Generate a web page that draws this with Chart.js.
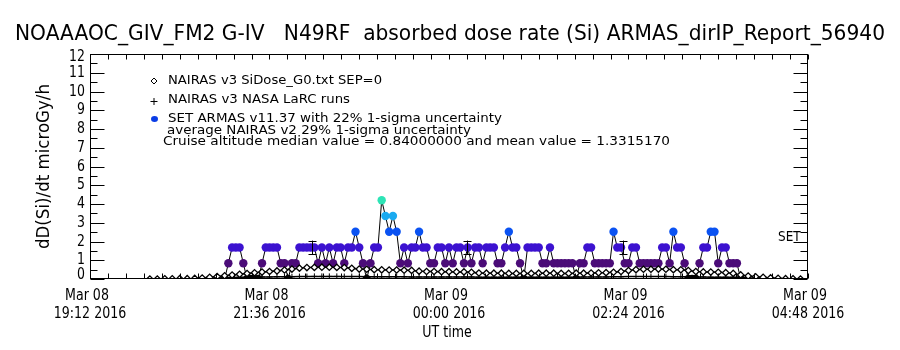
<!DOCTYPE html>
<html>
<head>
<meta charset="utf-8">
<script src="https://cdn.jsdelivr.net/npm/chart.js@4.4.1/dist/chart.umd.min.js"></script>
<style>
  html, body { margin: 0; padding: 0; background: #fff; }
  #wrap { width: 900px; height: 350px; }
</style>
</head>
<body>
<div id="wrap"><canvas id="doseChart" width="900" height="350"></canvas></div>
<script>
// axis range, UT hours (24+ = next day)
const X_MIN = 19.2;
const X_MAX = 28.8;
const Y_MAX = 12;

const xTickHours = [19.2, 21.6, 24.0, 26.4, 28.8];
const xTickDate = ['Mar 08', 'Mar 08', 'Mar 09', 'Mar 09', 'Mar 09'];
const xTickTime = ['19:12 2016', '21:36 2016', '00:00 2016', '02:24 2016', '04:48 2016'];
const yTickValues = [0, 1, 2, 3, 4, 5, 6, 7, 8, 9, 10, 11, 12];

// NAIRAS model runs, one value every 6 min from 20:00
const NAIRAS_START = 20.0;
const NAIRAS_STEP_MIN = 6;
const nairasSiDose = [
  0.00, 0.00, 0.01, 0.01, 0.02, 0.02, 0.03, 0.05, 0.09, 0.13,
  0.17, 0.21, 0.25, 0.29, 0.33, 0.37, 0.40, 0.43, 0.48, 0.53,
  0.58, 0.61, 0.62, 0.63, 0.63, 0.62, 0.61, 0.57, 0.53, 0.52,
  0.50, 0.49, 0.48, 0.48, 0.47, 0.46, 0.42, 0.40, 0.40, 0.39,
  0.39, 0.38, 0.38, 0.36, 0.32, 0.31, 0.31, 0.31, 0.30, 0.30,
  0.30, 0.30, 0.31, 0.31, 0.31, 0.30, 0.30, 0.31, 0.31, 0.32,
  0.33, 0.34, 0.36, 0.40, 0.45, 0.50, 0.52, 0.52, 0.53, 0.52,
  0.50, 0.49, 0.45, 0.40, 0.38, 0.37, 0.36, 0.34, 0.30, 0.22,
  0.16, 0.12, 0.09, 0.06, 0.04, 0.02, 0.01, 0.00
];
const nairasLarc = [
  0.00, 0.00, 0.01, 0.01, 0.01, 0.02, 0.02, 0.03, 0.04, 0.06,
  0.07, 0.08, 0.09, 0.10, 0.10, 0.11, 0.11, 0.12, 0.12, 0.12,
  0.13, 0.13, 0.14, 0.14, 0.14, 0.14, 0.13, 0.13, 0.13, 0.12,
  0.12, 0.12, 0.12, 0.12, 0.12, 0.11, 0.11, 0.11, 0.11, 0.11,
  0.11, 0.11, 0.11, 0.11, 0.10, 0.10, 0.10, 0.10, 0.10, 0.10,
  0.10, 0.10, 0.10, 0.10, 0.10, 0.10, 0.10, 0.10, 0.11, 0.11,
  0.11, 0.11, 0.12, 0.12, 0.13, 0.13, 0.13, 0.13, 0.13, 0.13,
  0.12, 0.12, 0.12, 0.11, 0.11, 0.10, 0.10, 0.10, 0.09, 0.08,
  0.06, 0.05, 0.04, 0.03, 0.02, 0.01, 0.01, 0.00
];

// ARMAS readings are quantised in steps of 0.84 uGy/h; stored as step counts, every 3 min from 21:00
const ARMAS_START = 21.0;
const ARMAS_STEP_MIN = 3;
const DOSE_STEP = 0.84;
const armasCounts = [
  0, 1, 2, 2, 2, 1, 0, 0, 0, 0,
  1, 2, 2, 2, 2, 1, 1, 0, 1, 1,
  2, 2, 2, 2, 2, 1, 2, 1, 2, 1,
  2, 2, 1, 2, 2, 3, 2, 1, 0, 1,
  2, 2, 5, 4, 3, 4, 3, 1, 2, 1,
  2, 2, 3, 2, 2, 1, 1, 2, 2, 1,
  2, 1, 2, 2, 1, 2, 1, 2, 2, 1,
  2, 2, 2, 1, 1, 2, 3, 2, 2, 1,
  0, 2, 2, 2, 2, 1, 1, 2, 1, 1,
  1, 1, 1, 1, 0, 1, 1, 2, 2, 1,
  1, 1, 1, 1, 3, 2, 2, 1, 1, 2,
  2, 1, 1, 1, 1, 1, 1, 2, 2, 1,
  3, 2, 2, 1, 0, 0, 0, 1, 2, 2,
  3, 3, 1, 2, 2, 1, 1, 1, 0
];

// 22% uncertainty bars drawn on a few 1.68 readings
const errorBarHours = [22.17, 24.24, 26.32];
const errorBarValue = 1.68;
const ARMAS_SIGMA = 0.22;

const legendLines = [
  'NAIRAS v3 SiDose_G0.txt SEP=0',
  'NAIRAS v3 NASA LaRC runs',
  'SET ARMAS v11.37 with 22% 1-sigma uncertainty',
  'average NAIRAS v2 29% 1-sigma uncertainty',
  'Cruise altitude median value = 0.84000000 and mean value = 1.3315170'
];

const LEVEL_COLORS = ['#000000', '#4b0c78', '#3c12d0', '#0a52f2', '#1aaaf0', '#2ee4b6'];
const FONT = '"DejaVu Sans", "Liberation Sans", sans-serif';

function textScaled(ctx, str, x, yc, size, sx, align) {
  ctx.save();
  ctx.font = `${size}px ${FONT}`;
  ctx.textBaseline = 'middle';
  ctx.textAlign = 'left';
  const w = ctx.measureText(str).width * sx;
  const x0 = align === 'center' ? x - w / 2 : align === 'right' ? x - w : x;
  ctx.translate(x0, yc);
  ctx.scale(sx, 1);
  ctx.fillText(str, 0, 0);
  ctx.restore();
}

function textFit(ctx, str, x0, x1, yc, size) {
  ctx.save();
  ctx.font = `${size}px ${FONT}`;
  const sx = (x1 - x0) / ctx.measureText(str).width;
  ctx.restore();
  textScaled(ctx, str, x0, yc, size, sx, 'left');
}

function seg(ctx, x1, y1, x2, y2) {
  ctx.beginPath();
  ctx.moveTo(x1, y1);
  ctx.lineTo(x2, y2);
  ctx.stroke();
}

const frameAndText = {
  id: 'frameAndText',
  beforeDraw(chart) {
    const { ctx, width, height } = chart;
    ctx.save();
    ctx.fillStyle = '#fff';
    ctx.fillRect(0, 0, width, height);
    ctx.restore();
  },
  afterDatasetsDraw(chart) {
    const { ctx, scales: { x, y } } = chart;
    ctx.save();
    ctx.strokeStyle = '#000';
    ctx.lineWidth = 1;
    errorBarHours.forEach(h => {
      const px = Math.round(x.getPixelForValue(h)) + 0.5;
      const top = y.getPixelForValue(errorBarValue * (1 + ARMAS_SIGMA));
      const bot = y.getPixelForValue(errorBarValue * (1 - ARMAS_SIGMA));
      seg(ctx, px, top, px, bot);
      seg(ctx, px - 4, Math.round(top) + 0.5, px + 4, Math.round(top) + 0.5);
      seg(ctx, px - 4, Math.round(bot) + 0.5, px + 4, Math.round(bot) + 0.5);
    });
    ctx.restore();
  },
  afterDraw(chart) {
    const { ctx, chartArea: a, scales: { x, y } } = chart;
    ctx.save();
    ctx.strokeStyle = '#000';
    ctx.fillStyle = '#000';
    ctx.lineWidth = 1;
    const L = a.left + 0.5, R = a.right - 0.5, T = a.top + 0.5, B = a.bottom - 0.5;
    ctx.strokeRect(L, T, R - L, B - T);

    // y ticks, majors on integers, minors on halves
    for (let v = 0; v <= Y_MAX; v += 0.5) {
      const py = Math.round(y.getPixelForValue(v)) + 0.5;
      const len = Number.isInteger(v) ? 14 : 7;
      seg(ctx, L, py, L + len, py);
      seg(ctx, R - len, py, R, py);
    }
    // x ticks every 14.4 min
    for (let k = 0; k <= 40; k++) {
      const px = Math.round(x.getPixelForValue(X_MIN + k * 0.24)) + 0.5;
      seg(ctx, px, T, px, T + 5);
      seg(ctx, px, B - 5, px, B);
    }

    yTickValues.forEach(v => {
      const yc = Math.min(Math.max(y.getPixelForValue(v), a.top + 3), a.bottom - 4);
      textScaled(ctx, String(v), 85, yc, 16, 0.78, 'right');
    });
    xTickHours.forEach((h, i) => {
      const px = x.getPixelForValue(h);
      textScaled(ctx, xTickDate[i], px - 3, 296, 15, 0.84, 'center');
      textScaled(ctx, xTickTime[i], px, 314, 15, 0.84, 'center');
    });
    textScaled(ctx, 'UT time', 447, 333, 15, 0.84, 'center');

    textFit(ctx, 'NOAAAOC_GIV_FM2 G-IV   N49RF  absorbed dose rate (Si) ARMAS_dirIP_Report_56940', 15, 885, 35, 21);

    ctx.save();
    ctx.translate(45, 167);
    ctx.rotate(-Math.PI / 2);
    textFit(ctx, 'dD(Si)/dt microGy/h', -82, 83, 0, 17);
    ctx.restore();

    // legend
    const rows = [81, 100, 119, 131, 142];
    const ends = [382, 350, 502, 471, 670];
    const starts = [168, 168, 168, 167, 163];
    legendLines.forEach((t, i) => textFit(ctx, t, starts[i], ends[i], rows[i], 12.5));
    // diamond
    ctx.beginPath();
    ctx.moveTo(154, rows[0] - 3); ctx.lineTo(157, rows[0]); ctx.lineTo(154, rows[0] + 3); ctx.lineTo(151, rows[0]);
    ctx.closePath(); ctx.stroke();
    // plus
    seg(ctx, 150.5, rows[1] + 1.5, 157.5, rows[1] + 1.5);
    seg(ctx, 154, rows[1] - 2, 154, rows[1] + 5);
    // filled dot
    ctx.fillStyle = '#0a3ce6';
    ctx.beginPath();
    ctx.ellipse(154.5, rows[2], 3.5, 3, 0, 0, Math.PI * 2);
    ctx.fill();
    ctx.fillStyle = '#000';

    textScaled(ctx, 'SET', 778, 237, 14, 0.86, 'left');
    ctx.restore();
  }
};

const DoseChart = {
  chart: null,

  init() {
    const ctx = document.getElementById('doseChart');
    const nairasPoints = vals => vals.map((v, i) => ({ x: NAIRAS_START + i * NAIRAS_STEP_MIN / 60, y: v }));
    const armasPoints = armasCounts.map((n, i) => ({ x: ARMAS_START + i * ARMAS_STEP_MIN / 60, y: n * DOSE_STEP }));
    const armasColors = armasCounts.map(n => LEVEL_COLORS[n]);

    this.chart = new Chart(ctx, {
      type: 'line',
      data: {
        datasets: [
          {
            label: 'NAIRAS v3 SiDose_G0.txt SEP=0',
            data: nairasPoints(nairasSiDose),
            borderColor: '#000',
            borderWidth: 1.5,
            pointStyle: 'rectRot',
            pointRadius: 3.2,
            pointBorderWidth: 1.3,
            pointBorderColor: '#000',
            pointBackgroundColor: '#fff',
            order: 0
          },
          {
            label: 'NAIRAS v3 NASA LaRC runs',
            data: nairasPoints(nairasLarc),
            borderColor: '#000',
            borderWidth: 1.5,
            pointStyle: 'cross',
            pointRadius: 3,
            pointBorderWidth: 1,
            pointBorderColor: '#000',
            order: 1
          },
          {
            label: 'SET ARMAS v11.37',
            data: armasPoints,
            borderColor: '#000',
            borderWidth: 1,
            pointStyle: 'circle',
            pointRadius: 4.2,
            pointBorderWidth: 0,
            pointBorderColor: armasColors,
            pointBackgroundColor: armasColors,
            order: 2
          }
        ]
      },
      options: {
        responsive: false,
        animation: false,
        devicePixelRatio: 1,
        layout: { padding: { left: 90, right: 92, top: 54, bottom: 71 } },
        plugins: { legend: { display: false }, tooltip: { enabled: false } },
        scales: {
          x: { type: 'linear', min: X_MIN, max: X_MAX, display: false },
          y: { type: 'linear', min: 0, max: Y_MAX, display: false }
        }
      },
      plugins: [frameAndText]
    });
  }
};

DoseChart.init();
</script>
</body>
</html>
